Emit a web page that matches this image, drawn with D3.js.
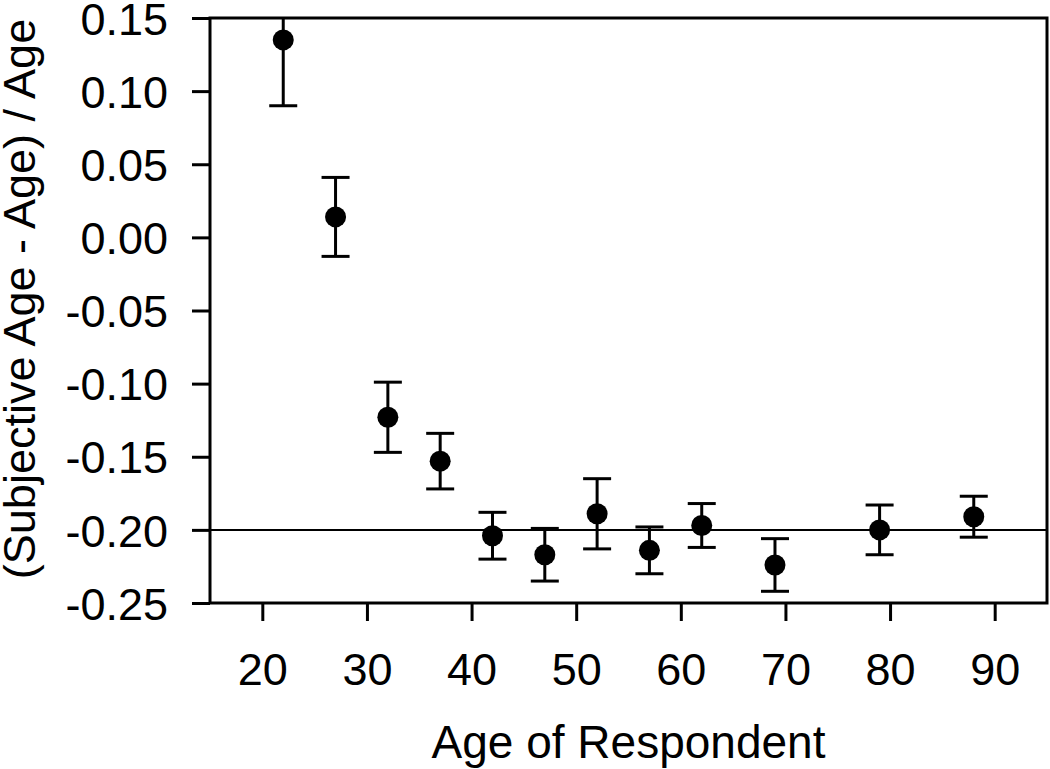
<!DOCTYPE html>
<html>
<head>
    <meta charset="utf-8">
    <script src="https://d3js.org/d3.v7.min.js"></script>
    <style>
        body {
            margin: 0;
            background: #fff;
            font-family: 'Liberation Sans', Arial, sans-serif;
        }
        svg {
            display: block;
        }
    </style>
</head>
<body>
    <div id="chart"></div>
<script>
    // respondent age groups and mean relative subjective age (with error)
    var ages = [22, 27, 32, 37, 42, 47, 52, 57, 62, 69, 79, 88];
    var means = [0.135, 0.014, -0.123, -0.153, -0.204, -0.217, -0.189, -0.214, -0.197, -0.224, -0.200, -0.191];
    var errors = [0.045, 0.027, 0.024, 0.019, 0.016, 0.018, 0.024, 0.016, 0.015, 0.018, 0.017, 0.014];

    var xTicks = [20, 30, 40, 50, 60, 70, 80, 90];
    var yTicks = [0.15, 0.10, 0.05, 0.00, -0.05, -0.10, -0.15, -0.20, -0.25];
    var refValue = -0.20;

    var data = ages.map(function (a, i) {
        return {age: a, mean: means[i], err: errors[i]};
    });

    var W = 1050, H = 769;
    var margin = {top: 18, right: 3, bottom: 166, left: 210};
    var width = W - margin.left - margin.right,
        height = H - margin.top - margin.bottom;

    var svg = d3.select("#chart")
        .append("svg")
        .attr("width", W)
        .attr("height", H);

    var g = svg.append("g")
        .attr("transform", "translate(" + margin.left + "," + margin.top + ")");

    var x = d3.scaleLinear().domain([15, 95]).range([0, width]);
    var y = d3.scaleLinear().domain([-0.25, 0.15]).range([height, 0]);

    g.append("clipPath").attr("id", "clip")
        .append("rect").attr("width", width).attr("height", height);

    // reference line
    g.append("line")
        .attr("x1", 0).attr("x2", width)
        .attr("y1", y(refValue)).attr("y2", y(refValue))
        .attr("stroke", "#000").attr("stroke-width", 2);

    // error bars
    var bars = g.append("g").attr("clip-path", "url(#clip)")
        .selectAll("g.err")
        .data(data)
        .enter().append("g")
        .attr("class", "err")
        .attr("stroke", "#000")
        .attr("stroke-width", 3);

    bars.append("line")
        .attr("x1", function (d) { return x(d.age); })
        .attr("x2", function (d) { return x(d.age); })
        .attr("y1", function (d) { return y(d.mean - d.err); })
        .attr("y2", function (d) { return y(d.mean + d.err); });

    var capW = 14;
    [-1, 1].forEach(function (s) {
        bars.append("line")
            .attr("x1", function (d) { return x(d.age) - capW; })
            .attr("x2", function (d) { return x(d.age) + capW; })
            .attr("y1", function (d) { return y(d.mean + s * d.err); })
            .attr("y2", function (d) { return y(d.mean + s * d.err); });
    });

    // points
    g.selectAll("circle")
        .data(data)
        .enter().append("circle")
        .attr("cx", function (d) { return x(d.age); })
        .attr("cy", function (d) { return y(d.mean); })
        .attr("r", 10.5)
        .attr("fill", "#000");

    // axes
    var fmt = function (v) { return d3.format(".2f")(v).replace("\u2212", "-"); };

    var yAxis = g.append("g")
        .call(d3.axisLeft(y).tickValues(yTicks).tickFormat(fmt).tickSize(18).tickPadding(24));

    var xAxis = g.append("g")
        .attr("transform", "translate(0," + height + ")")
        .call(d3.axisBottom(x).tickValues(xTicks).tickFormat(d3.format("d")).tickSize(18).tickPadding(32));

    [xAxis, yAxis].forEach(function (ax) {
        ax.select(".domain").remove();
        ax.selectAll(".tick line").attr("stroke", "#000").attr("stroke-width", 3);
        ax.selectAll(".tick text")
            .attr("fill", "#000")
            .style("font-family", "'Liberation Sans', Arial, sans-serif")
            .style("font-size", "45px");
    });
    yAxis.selectAll(".tick text").attr("dy", "0.36em");

    // frame
    g.append("rect")
        .attr("width", width).attr("height", height)
        .attr("fill", "none")
        .attr("stroke", "#000")
        .attr("stroke-width", 3);

    // axis titles
    svg.append("text")
        .attr("x", margin.left + width / 2)
        .attr("y", 758)
        .attr("text-anchor", "middle")
        .style("font-size", "46px")
        .text("Age of Respondent");

    svg.append("text")
        .attr("transform", "translate(35,299) rotate(-90)")
        .attr("text-anchor", "middle")
        .style("font-size", "45px")
        .text("(Subjective Age - Age) / Age");
</script>
</body>
</html>
